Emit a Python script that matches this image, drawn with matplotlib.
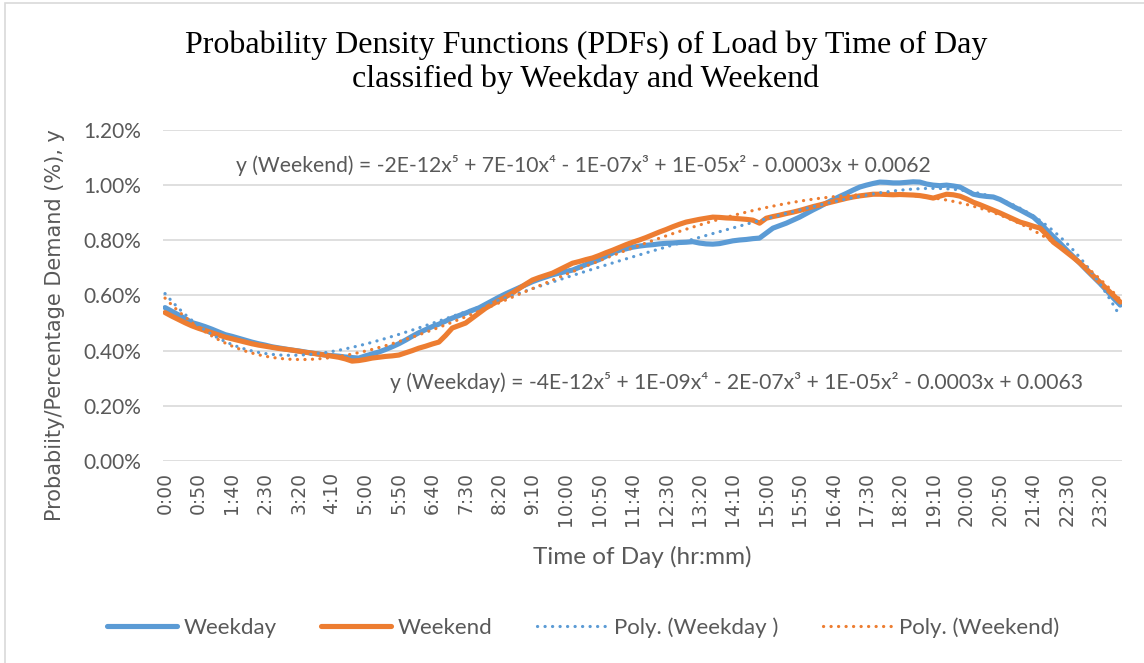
import numpy as np
import matplotlib
matplotlib.use("Agg")
import matplotlib.pyplot as plt
from matplotlib.ticker import PercentFormatter
from matplotlib.patches import Rectangle

plt.rcParams['font.family'] = ['Lato', 'DejaVu Sans']

# time of day, 10 minute steps
times = ["%d:%02d" % (m // 60, m % 60) for m in range(0, 24 * 60, 10)]

# weekday load share per 10-min slot (%)
weekday = [
    0.556, 0.543, 0.530, 0.516, 0.502, 0.495, 0.487, 0.478, 0.468, 0.458, 0.452, 0.445,
    0.438, 0.431, 0.425, 0.420, 0.414, 0.410, 0.406, 0.402, 0.399, 0.395, 0.391, 0.388,
    0.384, 0.382, 0.380, 0.377, 0.375, 0.373, 0.381, 0.388, 0.395, 0.404, 0.414, 0.425,
    0.438, 0.452, 0.465, 0.476, 0.487, 0.496, 0.507, 0.518, 0.527, 0.536, 0.546, 0.555,
    0.568, 0.581, 0.594, 0.606, 0.617, 0.628, 0.639, 0.650, 0.659, 0.667, 0.675, 0.681,
    0.687, 0.692, 0.702, 0.712, 0.721, 0.730, 0.742, 0.754, 0.764, 0.769, 0.775, 0.779,
    0.782, 0.784, 0.787, 0.789, 0.790, 0.792, 0.793, 0.795, 0.790, 0.787, 0.786, 0.788,
    0.793, 0.798, 0.801, 0.803, 0.806, 0.808, 0.826, 0.844, 0.853, 0.862, 0.873, 0.884,
    0.897, 0.910, 0.922, 0.935, 0.947, 0.959, 0.970, 0.982, 0.993, 1.000, 1.006, 1.011,
    1.010, 1.008, 1.008, 1.010, 1.012, 1.011, 1.004, 1.000, 0.998, 1.000, 0.997, 0.993,
    0.980, 0.967, 0.962, 0.959, 0.957, 0.948, 0.935, 0.922, 0.910, 0.897, 0.884, 0.862,
    0.837, 0.813, 0.789, 0.764, 0.740, 0.716, 0.691, 0.667, 0.643, 0.617, 0.590, 0.565,
]

# weekend load share per 10-min slot (%)
weekend = [
    0.538, 0.525, 0.513, 0.501, 0.490, 0.481, 0.473, 0.465, 0.457, 0.449, 0.443, 0.437,
    0.431, 0.425, 0.420, 0.416, 0.412, 0.408, 0.405, 0.402, 0.398, 0.394, 0.391, 0.387,
    0.384, 0.380, 0.376, 0.370, 0.362, 0.364, 0.368, 0.373, 0.376, 0.379, 0.381, 0.384,
    0.392, 0.400, 0.409, 0.416, 0.424, 0.431, 0.455, 0.482, 0.491, 0.500, 0.518, 0.536,
    0.554, 0.568, 0.582, 0.595, 0.609, 0.625, 0.641, 0.656, 0.665, 0.673, 0.681, 0.693,
    0.705, 0.717, 0.723, 0.730, 0.736, 0.745, 0.755, 0.764, 0.774, 0.784, 0.793, 0.801,
    0.810, 0.820, 0.830, 0.839, 0.849, 0.858, 0.866, 0.871, 0.876, 0.880, 0.884, 0.883,
    0.881, 0.880, 0.878, 0.876, 0.873, 0.862, 0.880, 0.886, 0.891, 0.897, 0.902, 0.908,
    0.915, 0.922, 0.928, 0.934, 0.940, 0.946, 0.952, 0.957, 0.961, 0.964, 0.967, 0.967,
    0.966, 0.965, 0.966, 0.965, 0.964, 0.962, 0.958, 0.953, 0.960, 0.967, 0.965, 0.960,
    0.950, 0.938, 0.929, 0.919, 0.909, 0.899, 0.888, 0.877, 0.866, 0.859, 0.851, 0.844,
    0.820, 0.793, 0.775, 0.756, 0.737, 0.717, 0.694, 0.670, 0.647, 0.623, 0.600, 0.576,
]

eq_weekend = "y (Weekend) = -2E-12x⁵ + 7E-10x⁴ - 1E-07x³ + 1E-05x² - 0.0003x + 0.0062"
eq_weekday = "y (Weekday) = -4E-12x⁵ + 1E-09x⁴ - 2E-07x³ + 1E-05x² - 0.0003x + 0.0063"

blue = '#5B9BD5'
orange = '#ED7D31'
grey = '#595959'

wd = np.array(weekday) / 100.0
we = np.array(weekend) / 100.0
idx = np.arange(len(times))

# excel style 5th order trendlines, x = 1..n
xfit = idx + 1
wd_trend = np.polyval(np.polyfit(xfit, wd, 5), xfit)
we_trend = np.polyval(np.polyfit(xfit, we, 5), xfit)

fig = plt.figure(figsize=(11.44, 6.63), dpi=100)
fig.patches.append(Rectangle((0.004, -0.01), 1.2, 1.005, transform=fig.transFigure,
                             fill=False, edgecolor='#d9d9d9', linewidth=1.2))
ax = fig.add_axes([0.1425, 0.3047, 0.8385, 0.4993])

dots = (0, (0.05, 2.3))
ax.plot(idx, wd, color=blue, linewidth=3.7, solid_capstyle='round', label='Weekday')
ax.plot(idx, we, color=orange, linewidth=3.7, solid_capstyle='round', label='Weekend')
ax.plot(idx, wd_trend, color=blue, linewidth=2.3, linestyle=dots,
        dash_capstyle='round', label='Poly. (Weekday )')
ax.plot(idx, we_trend, color=orange, linewidth=2.3, linestyle=dots,
        dash_capstyle='round', label='Poly. (Weekend)')

ax.set_ylim(0, 0.012)
ax.set_xlim(-0.3, 143.3)
ax.set_yticks(np.arange(0, 0.0121, 0.002))
ax.yaxis.set_major_formatter(PercentFormatter(xmax=1, decimals=2))
ax.set_xticks(idx[::5])
ax.set_xticklabels(times[::5], rotation=90, fontsize=13.5, color=grey, family='DejaVu Sans')
ax.tick_params(axis='y', labelsize=15, colors=grey, length=0, pad=16)
ax.tick_params(axis='x', length=0, pad=8)
ax.grid(axis='y', color='#d9d9d9', linewidth=1.2)
ax.set_axisbelow(True)
for s in ax.spines.values():
    s.set_visible(False)

ax.set_xlabel('Time of Day (hr:mm)', fontsize=17.5, color=grey)
ax.xaxis.set_label_coords(0.5, -0.256)
ax.set_ylabel('Probabiity/Percentage Demand (%), y', fontsize=15, color=grey,
              family='DejaVu Sans')
ax.yaxis.set_label_coords(-0.102, 0.411)

ax.text(0.076, 0.01072, eq_weekend, transform=ax.get_yaxis_transform(), fontsize=15.2,
        color=grey, va='center', ha='left')
ax.text(0.2367, 0.00286, eq_weekday, transform=ax.get_yaxis_transform(), fontsize=15.2,
        color=grey, va='center', ha='left')

fig.text(0.512, 0.906, 'Probability Density Functions (PDFs) of Load by Time of Day\n'
         'classified by Weekday and Weekend', ha='center', va='center',
         fontsize=23, family='Liberation Serif', linespacing=1.2)

leg = fig.legend(loc='center', bbox_to_anchor=(0.51, 0.053), ncol=4, frameon=False,
                 fontsize=16, handlelength=3.15, columnspacing=2.0, handletextpad=0.3)
for t in leg.get_texts():
    t.set_color(grey)

fig.savefig('out.png', dpi=100)
